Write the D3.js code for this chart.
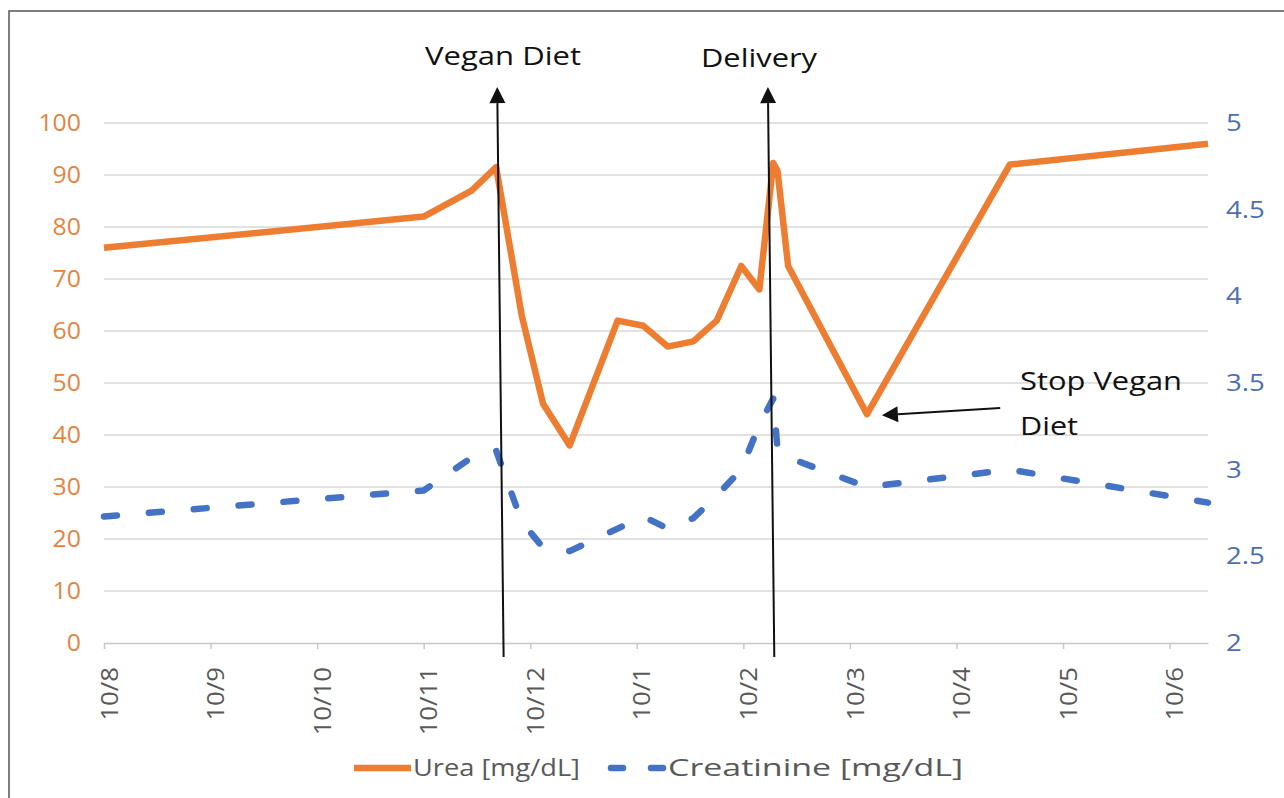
<!DOCTYPE html>
<html lang="en">
<head>
    <meta charset="UTF-8">
    <title>Urea and Creatinine</title>
    <script src="https://cdn.jsdelivr.net/npm/d3@7"></script>
    <style>
        body{ margin:0; background:#fff; }
        text{ font-family: "Open Sans", sans-serif; }
    </style>
</head>
<body>
<div class="container"></div>
<script>
    ////////////////////////////////////////////////////////////////
    /*                       Data                                  */
    ////////////////////////////////////////////////////////////////

    const tickLabels = ["10/8","10/9","10/10","10/11","10/12","10/1","10/2","10/3","10/4","10/5","10/6"]
    // position of each sample along the date axis, in tick units
    const samplePos = [0, 3.0, 3.45, 3.68, 3.92, 4.12, 4.37, 4.82, 5.06, 5.29, 5.53, 5.75, 5.98, 6.15, 6.28, 6.32, 6.42, 7.16, 8.5, 10.36]
    const urea = [76, 82, 87, 91.5, 63, 46, 38, 62, 61, 57, 58, 62, 72.5, 68, 92.3, 90.8, 72.5, 44, 92, 96]
    const creatinine = [2.73, 2.88, 3.07, 3.11, 2.70, 2.55, 2.53, 2.66, 2.73, 2.66, 2.72, 2.85, 3.0, 3.26, 3.41, 3.12, 3.07, 2.90, 3.0, 2.81]
    const leftTicks = [0,10,20,30,40,50,60,70,80,90,100]
    const rightTicks = [2,2.5,3,3.5,4,4.5,5]
    const seriesNames = ["Urea [mg/dL]","Creatinine [mg/dL]"]

    ////////////////////////////////////////////////////////////////
    /*          Constants and Visualization Containers           */
    ////////////////////////////////////////////////////////////////

    const W = 1284, H = 798
    const orange = "#ED7D31", blue = "#4472C4"
    const svg = d3.select('.container')
        .append("svg")
        .attr("width", W)
        .attr("height", H)

    // chart area frame (clipped by the picture on right and bottom)
    svg.append("rect")
        .attr("x", 9).attr("y", 11)
        .attr("width", 1300).attr("height", 820)
        .attr("fill", "none").attr("stroke", "#555").attr("stroke-width", 1.5)

    const x = d3.scaleLinear().domain([0, 10.36]).range([104, 1208])
    const yL = d3.scaleLinear().domain([0, 100]).range([643, 123])
    const yR = d3.scaleLinear().domain([2, 5]).range([643, 123])

    // stretch text horizontally to match the reference's wide glyphs
    function stretch(sel, k){
        sel.each(function(){
            const w = this.getComputedTextLength()
            this.setAttribute("textLength", w * k)
            this.setAttribute("lengthAdjust", "spacingAndGlyphs")
        })
    }

    ////////////////////////////////////////////////////////////////
    /*                 Grid and axes                               */
    ////////////////////////////////////////////////////////////////

    svg.append("g")
        .selectAll("line")
        .data(leftTicks.slice(1))
        .join("line")
        .attr("x1", x.range()[0]).attr("x2", x.range()[1])
        .attr("y1", d => yL(d)).attr("y2", d => yL(d))
        .attr("stroke", "#d9d9d9").attr("stroke-width", 1.5)

    const xAxis = svg.append("g")
        .attr("transform", `translate(0,${yL(0)})`)
        .call(d3.axisBottom(x)
            .tickValues(d3.range(tickLabels.length))
            .tickFormat(i => tickLabels[i])
            .tickSize(6).tickSizeOuter(0))
    xAxis.select(".domain").attr("stroke", "#c8c8c8").attr("stroke-width", 1.5)
    xAxis.selectAll(".tick line").attr("stroke", "#c8c8c8").attr("stroke-width", 1.5)
    xAxis.selectAll(".tick text")
        .attr("transform", "rotate(-90)")
        .attr("text-anchor", "end")
        .attr("x", -24).attr("y", 5)
        .attr("dy", "0.35em")
        .attr("fill", "#595959")
        .style("font-size", "23px")
        .call(stretch, 1.12)

    const yAxisL = svg.append("g")
        .attr("transform", `translate(81,0)`)
        .call(d3.axisLeft(yL).tickValues(leftTicks).tickSize(0).tickPadding(0))
    yAxisL.select(".domain").remove()
    yAxisL.selectAll("text")
        .attr("fill", "#E4843F")
        .style("font-size", "23px")
        .call(stretch, 1.08)

    const yAxisR = svg.append("g")
        .attr("transform", `translate(1226,0)`)
        .call(d3.axisRight(yR).tickValues(rightTicks).tickFormat(d3.format("~g")).tickSize(0).tickPadding(0))
    yAxisR.select(".domain").remove()
    yAxisR.selectAll("text")
        .attr("fill", "#4E6FAE")
        .style("font-size", "23px")
        .call(stretch, 1.2)

    ////////////////////////////////////////////////////////////////
    /*                 Series lines                                */
    ////////////////////////////////////////////////////////////////

    const lineUrea = d3.line().x((d, i) => x(samplePos[i])).y(d => yL(d))
    const lineCrea = d3.line().x((d, i) => x(samplePos[i])).y(d => yR(d))

    svg.append("path")
        .datum(creatinine)
        .attr("d", lineCrea)
        .attr("fill", "none")
        .attr("stroke", blue).attr("stroke-width", 6.5)
        .attr("stroke-dasharray", "13,32")
        .attr("stroke-linecap", "round").attr("stroke-linejoin", "round")

    svg.append("path")
        .datum(urea)
        .attr("d", lineUrea)
        .attr("fill", "none")
        .attr("stroke", orange).attr("stroke-width", 6.5)
        .attr("stroke-linejoin", "round")

    ////////////////////////////////////////////////////////////////
    /*                 Annotations                                 */
    ////////////////////////////////////////////////////////////////

    function arrow(x1, y1, x2, y2){   // tip at (x2,y2)
        const g = svg.append("g")
        const a = Math.atan2(y2 - y1, x2 - x1)
        const len = 16, half = 8
        const bx = x2 - len * Math.cos(a), by = y2 - len * Math.sin(a)
        g.append("line")
            .attr("x1", x1).attr("y1", y1).attr("x2", bx).attr("y2", by)
            .attr("stroke", "#111").attr("stroke-width", 2)
        g.append("path")
            .attr("d", `M${x2},${y2}L${bx - half * Math.sin(a)},${by + half * Math.cos(a)}L${bx + half * Math.sin(a)},${by - half * Math.cos(a)}Z`)
            .attr("fill", "#111")
    }

    arrow(x(3.75), yL(-2.7), x(3.69), yL(106.9))
    arrow(x(6.29), yL(-2.7), x(6.23), yL(106.9))
    arrow(x(8.41), yL(45.2), x(7.30), yL(43.8))

    const note = (t, px, py, w) => svg.append("text")
        .attr("x", px).attr("y", py)
        .attr("fill", "#111")
        .style("font-size", "25px")
        .text(t)
        .attr("textLength", w).attr("lengthAdjust", "spacingAndGlyphs")

    note("Vegan Diet", 425, 65, 156)
    note("Delivery", 701, 67, 116)
    note("Stop Vegan", 1020, 390, 162)
    note("Diet", 1020, 435, 58)

    ////////////////////////////////////////////////////////////////
    /*                 Legend                                      */
    ////////////////////////////////////////////////////////////////

    const legend = svg.append("g").attr("transform", "translate(0,768)")
    legend.append("line")
        .attr("x1", 354).attr("x2", 411).attr("y1", 0).attr("y2", 0)
        .attr("stroke", orange).attr("stroke-width", 6.5)
    legend.append("line")
        .attr("x1", 611).attr("x2", 664).attr("y1", 0).attr("y2", 0)
        .attr("stroke", blue).attr("stroke-width", 6.5)
        .attr("stroke-dasharray", "12,28")
        .attr("stroke-linecap", "round")
    legend.selectAll("text")
        .data(seriesNames)
        .join("text")
        .attr("x", (d, i) => i ? 668 : 413)
        .attr("dy", "0.35em")
        .attr("fill", "#595959")
        .style("font-size", "23px")
        .text(d => d)
        .attr("textLength", (d, i) => i ? 295 : 167)
        .attr("lengthAdjust", "spacingAndGlyphs")
</script>

</body>
</html>
